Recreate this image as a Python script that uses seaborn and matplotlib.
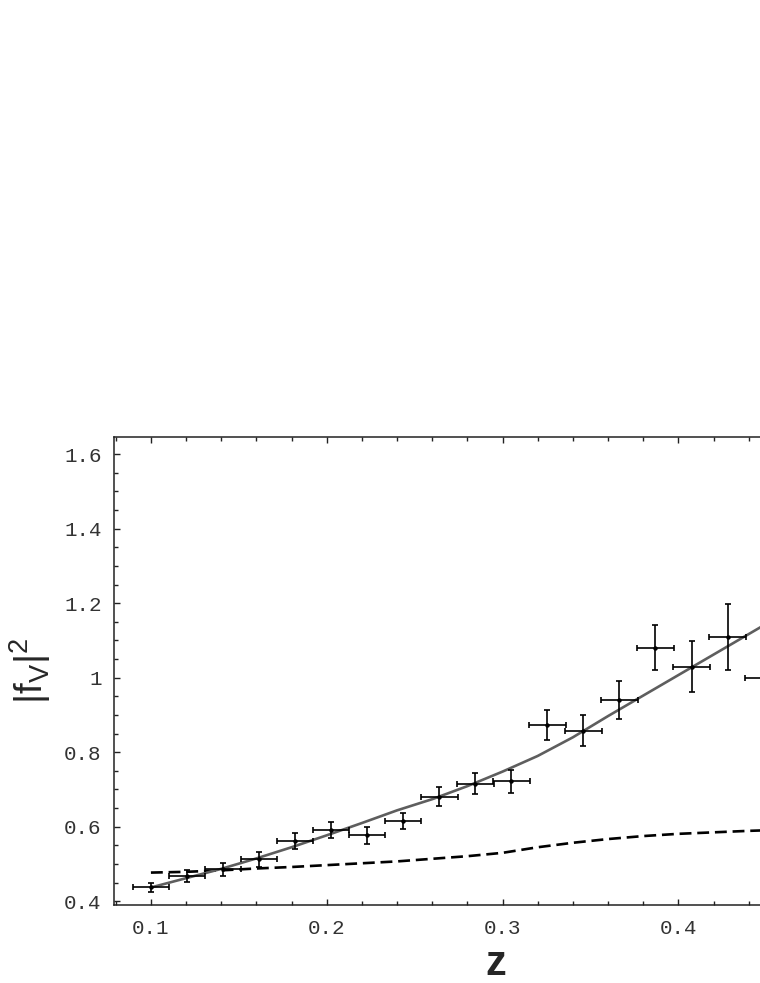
#!/usr/bin/env python3
"""Form factor |f_V|^2 against z: binned data with fit and reference curve."""
import numpy as np
import pandas as pd
import seaborn as sns
import matplotlib.pyplot as plt
from matplotlib.ticker import MultipleLocator

sns.set_style("ticks")
plt.rcParams["font.family"] = ["Liberation Mono", "DejaVu Sans"]
plt.rcParams["mathtext.fontset"] = "custom"
plt.rcParams["mathtext.rm"] = "Liberation Sans"

# binned measurements
z_data = [0.1, 0.1205, 0.141, 0.1615, 0.182, 0.2025, 0.223, 0.2435, 0.264,
          0.2845, 0.305, 0.3255, 0.346, 0.3665, 0.387, 0.4075, 0.428, 0.4485]
f2_data = [0.437, 0.469, 0.486, 0.513, 0.562, 0.591, 0.577, 0.616, 0.681,
           0.715, 0.722, 0.873, 0.858, 0.939, 1.081, 1.030, 1.110, 1.000]
f2_err = [0.013, 0.016, 0.0175, 0.020, 0.0205, 0.022, 0.0236, 0.022, 0.0255,
          0.028, 0.031, 0.039, 0.0416, 0.051, 0.061, 0.069, 0.089, 0.100]
z_err = [0.0104] * len(z_data)

# fitted curve (solid) and reference curve (dashed)
z_curve = [0.10, 0.12, 0.14, 0.16, 0.18, 0.20, 0.22, 0.24, 0.26, 0.28,
           0.30, 0.32, 0.34, 0.36, 0.38, 0.40, 0.42, 0.44, 0.46]
fit_curve = [0.437, 0.462, 0.487, 0.515, 0.545, 0.577, 0.610, 0.644, 0.674,
             0.709, 0.748, 0.790, 0.840, 0.897, 0.952, 1.007, 1.062, 1.117, 1.172]
ref_curve = [0.477, 0.479, 0.483, 0.488, 0.492, 0.497, 0.502, 0.507, 0.514,
             0.521, 0.530, 0.545, 0.557, 0.567, 0.575, 0.581, 0.585, 0.589, 0.592]

curves = pd.DataFrame({"z": z_curve, "fit": fit_curve, "ref": ref_curve})

W, H = 760, 983
fig = plt.figure(figsize=(W / 100, H / 100), dpi=100)
# axes runs past the right edge of the picture, like the cropped original
left, right, top, bottom = 114, 877, 437, 905
ax = fig.add_axes([left / W, 1 - bottom / H, (right - left) / W, (bottom - top) / H])

sns.lineplot(data=curves, x="z", y="ref", ax=ax, color="black", lw=1.9,
             linestyle=(0, (4.5, 2.2)), zorder=2)
sns.lineplot(data=curves, x="z", y="fit", ax=ax, color="#5e5e5e", lw=1.9, zorder=3)
ax.errorbar(z_data, f2_data, xerr=z_err, yerr=f2_err, fmt="o", ms=2.2,
            color="black", ecolor="black", elinewidth=1.2, capsize=2.2,
            capthick=1.2, zorder=4)

ax.set_xlim(0.079, 0.513)
ax.set_ylim(0.390, 1.646)
ax.xaxis.set_major_locator(MultipleLocator(0.1))
ax.xaxis.set_minor_locator(MultipleLocator(0.02))
ax.yaxis.set_major_locator(MultipleLocator(0.2))
ax.yaxis.set_minor_locator(MultipleLocator(0.05))
ax.set_xticks([0.1, 0.2, 0.3, 0.4], ["0.1", "0.2", "0.3", "0.4"])
ax.set_yticks([0.4, 0.6, 0.8, 1.0, 1.2, 1.4, 1.6],
              ["0.4", "0.6", "0.8", "1", "1.2", "1.4", "1.6"])

ax.tick_params(which="both", direction="in", top=True, right=True,
               color="#222222", width=1.0, labelsize=15, labelcolor="#333333")
ax.tick_params(which="major", length=4.2)
ax.tick_params(which="minor", length=2.8)
ax.tick_params(axis="x", pad=10)
ax.tick_params(axis="y", pad=9)
for s in ax.spines.values():
    s.set_linewidth(1.1)
    s.set_color("#222222")

ax.set_xlabel("z", fontsize=30, fontweight="bold", family="Liberation Sans")
ax.set_ylabel(r"$|\mathrm{f}_{\mathrm{V}}|^{2}$", fontsize=28)
# place the axis titles where the reference has them
ax.xaxis.label.set_va("baseline")
ax.xaxis.set_label_coords(0.5, -(975 - bottom) / (bottom - top))
ax.yaxis.set_label_coords(-(left - 53) / (right - left), 0.5)

fig.savefig("out.png", dpi=100)
